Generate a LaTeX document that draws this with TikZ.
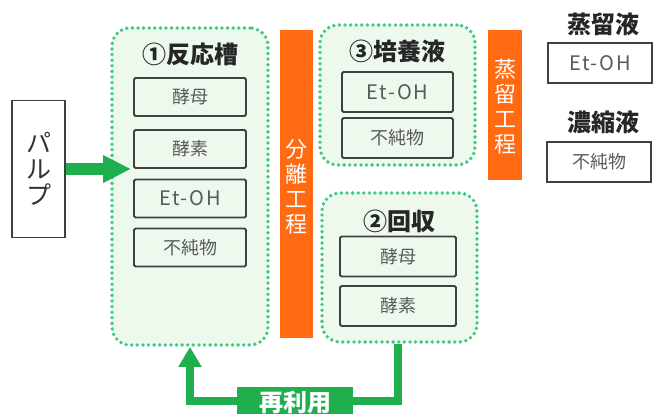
\documentclass[tikz,border=0pt]{standalone}
\usepackage{fontspec}
\setmainfont{Noto Sans CJK JP}
\usetikzlibrary{arrows.meta}
\definecolor{dotgreen}{HTML}{3CCB7F}
\definecolor{paleg}{HTML}{EEF9EE}
\definecolor{arrgreen}{HTML}{1FAF4F}
\definecolor{barorange}{HTML}{FF6A13}
\definecolor{itemtext}{HTML}{5A5A5A}
\definecolor{itemborder}{HTML}{404040}
\newcommand{\etoh}{{\fontsize{20}{22}\selectfont\addfontfeature{LetterSpace=9}Et-OH}}
\tikzset{
  container/.style={draw=dotgreen, fill=paleg, line width=3.8pt, dash pattern=on 0pt off 5.6pt, line cap=round, rounded corners=18pt, inner sep=0pt},
  item/.style={draw=itemborder, line width=1.8pt, fill=paleg, rounded corners=1.5pt, minimum width=112pt, minimum height=38pt, inner sep=0pt, text=itemtext, font=\fontsize{18}{20}\selectfont},
  outitem/.style={draw=itemborder, line width=1.3pt, fill=white, minimum width=104pt, minimum height=40pt, inner sep=0pt, text=itemtext, font=\fontsize{18}{20}\selectfont},
  title/.style={font=\bfseries\fontsize{24}{26}\selectfont, text=black!85, inner sep=0pt},
  bar/.style={fill=barorange, inner sep=0pt},
  bartext/.style={text=white, align=center, font=\fontsize{22}{25}\selectfont, inner sep=0pt},
  flow/.style={draw=arrgreen, line width=8pt},
}
\begin{document}
\begin{tikzpicture}[x=1pt,y=-1pt]
\useasboundingbox (0,0) rectangle (654,414);
% pulp
\node[draw=black!75, line width=1.4pt, fill=white, minimum width=53pt, minimum height=137pt, inner sep=0pt, align=center, font=\fontsize{25}{26}\selectfont, text=black!80] (pulp) at (38.5,169) {パ\\ル\\プ};
% reactor
\node[container, minimum width=156pt, minimum height=317pt] (r1) at (190,186.5) {};
\node[title] (t1) at (190,54) {①反応槽};
\node[item] (r1a) at (190,97) {酵母};
\node[item] (r1b) at (190,149) {酵素};
\node[item] (r1c) at (190,198.5) {\etoh};
\node[item] (r1d) at (190,247.5) {不純物};
% separation bar
\node[bar, minimum width=33pt, minimum height=308pt] (sep) at (296.5,184) {};
\node[bartext] (sept) at (296.5,187) {分\\離\\工\\程};
% culture liquid
\node[container, minimum width=155pt, minimum height=140pt] (r3) at (397.5,95) {};
\node[title] (t3) at (397.5,51) {③培養液};
\node[item, minimum width=111pt, minimum height=40pt] (r3a) at (397.5,92) {\etoh};
\node[item, minimum width=111pt, minimum height=40pt] (r3b) at (397.5,138) {不純物};
% distillation bar
\node[bar, minimum width=34pt, minimum height=150pt] (dist) at (505,105) {};
\node[bartext] (distt) at (505,107) {蒸\\留\\工\\程};
% outputs
\node[title] (o1t) at (603,24) {蒸留液};
\node[outitem] (o1) at (600,63) {\etoh};
\node[title] (o2t) at (603,122) {濃縮液};
\node[outitem] (o2) at (599,162) {不純物};
% recovery
\node[container, minimum width=155pt, minimum height=149pt] (r2) at (399.5,267.5) {};
\node[title] (t2) at (399.5,221) {②回収};
\node[item, minimum width=116pt, minimum height=40pt] (r2a) at (398,256.5) {酵母};
\node[item, minimum width=116pt, minimum height=40pt] (r2b) at (398,306) {酵素};
% pulp arrow
\coordinate (ptip) at (131,169);
\draw[draw=arrgreen, line width=12pt, -{Triangle[length=28pt,width=26pt]}] (pulp.east) -- (ptip);
% recycle
\coordinate (rc1) at (398,401);
\coordinate (rc2) at (190,401);
\draw[flow, line join=miter, -{Triangle[length=20pt,width=22pt]}] (r2.south -| rc1) -- (rc1) -- (rc2) -- (r1.south);
\node[fill=arrgreen, minimum width=116pt, minimum height=30pt, inner sep=0pt, text=white, font=\bfseries\fontsize{24}{26}\selectfont] (reuse) at (295,402) {再利用};
\end{tikzpicture}
\end{document}
